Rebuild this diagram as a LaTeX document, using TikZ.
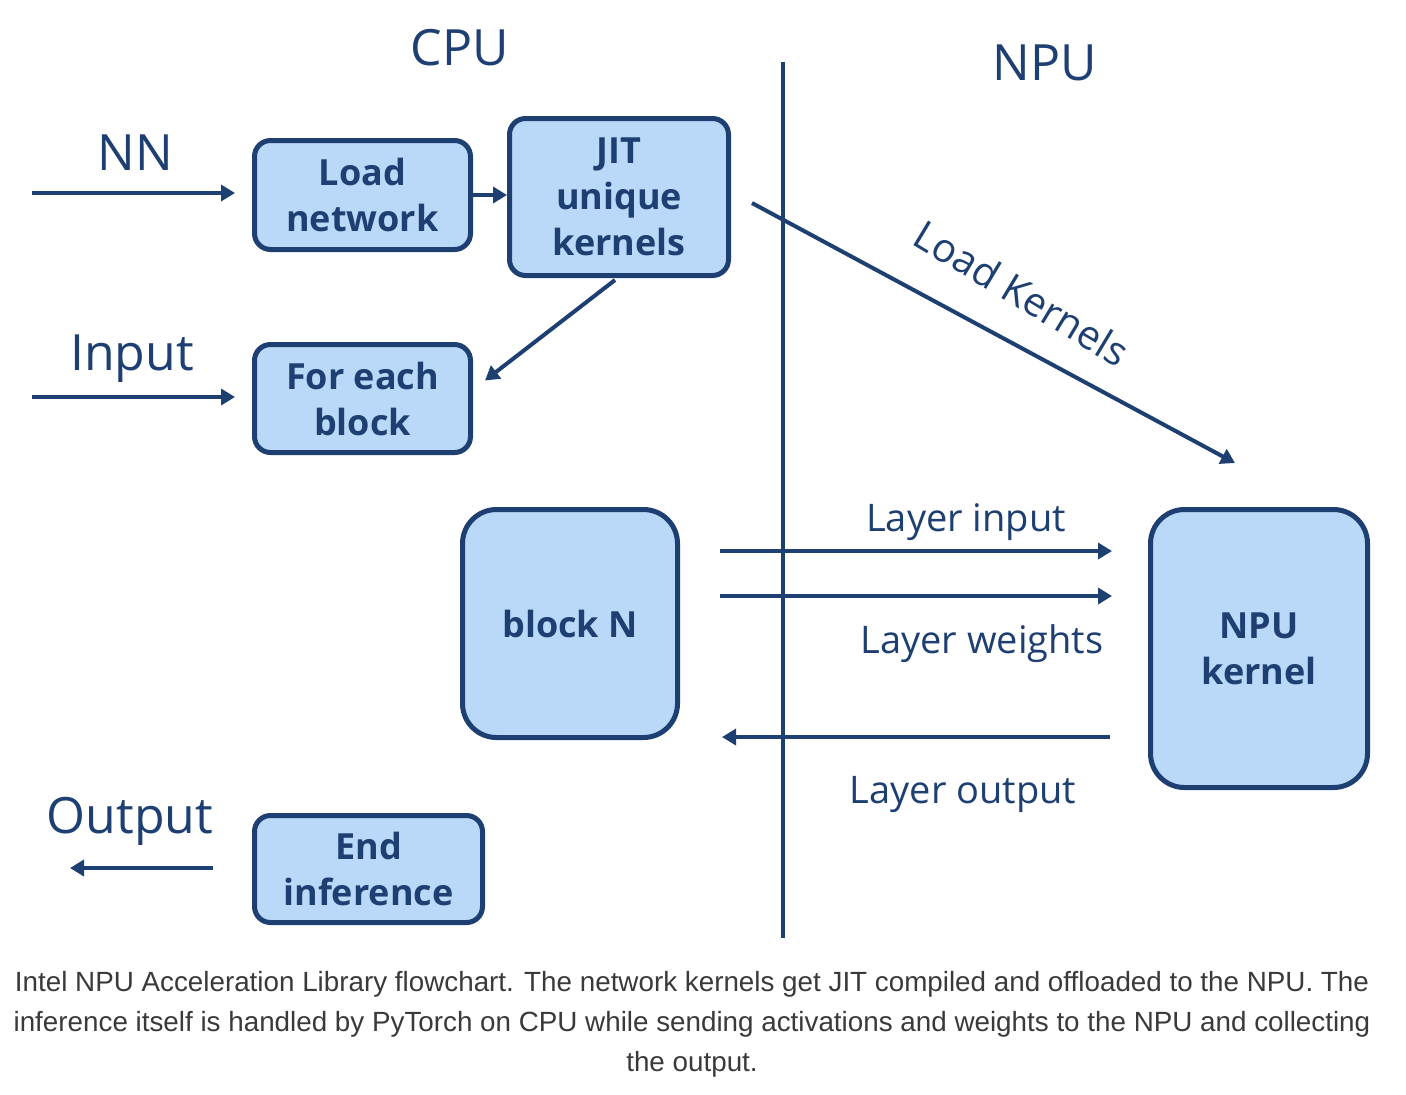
\documentclass[tikz,border=0pt]{standalone}
\usepackage{fontspec}
\setmainfont{Open Sans}
\newfontfamily\capfont{Liberation Sans}
\usetikzlibrary{arrows.meta,calc}
\definecolor{navy}{HTML}{1D3F72}
\definecolor{boxfill}{HTML}{BAD8F7}
\definecolor{capgray}{HTML}{3A3A3A}
\begin{document}
\begin{tikzpicture}[x=0.5pt,y=-0.5pt,
 box/.style={draw=navy, fill=boxfill, line width=2.5pt, rounded corners=8pt, align=center,
   font=\fontsize{18}{23}\selectfont\bfseries, text=navy, inner sep=0pt},
 bigbox/.style={box, rounded corners=17pt},
 arr/.style={draw=navy, line width=2pt, -{Triangle[length=7pt,width=8pt]}},
 biglbl/.style={text=navy, font=\fontsize{25}{30}\selectfont, inner sep=0pt, anchor=base},
 lbl/.style={text=navy, font=\fontsize{19}{23}\selectfont, inner sep=0pt, anchor=base},
]
\useasboundingbox[fill=white] (0,0) rectangle (1406,1094);

% divider
\coordinate (divtop) at (783,62);
\coordinate (divbot) at (783,938);
\draw[navy, line width=2pt] (divtop) -- (divbot);

% headings
\node[biglbl] (cpu) at (460,65) {CPU};
\node[biglbl] (npu) at (1045,80) {NPU};
\node[biglbl] (nn) at (135,170) {NN};
\node[biglbl] (input) at (132,370) {Input};
\node[biglbl] (output) at (130,833) {Output};

% boxes
\node[box, minimum width=108pt, minimum height=54.5pt] (load) at (362.5,195) {Load\\network};
\node[box, minimum width=109.5pt, minimum height=78.5pt] (jit) at (619,197) {JIT\\unique\\kernels};
\node[box, minimum width=108pt, minimum height=54pt] (foreach) at (362.5,398.5) {For each\\block};
\node[bigbox, minimum width=107.5pt, minimum height=114pt] (blockN) at (570,623.5) {block N};
\node[bigbox, minimum width=108.5pt, minimum height=139pt] (npuk) at (1259,648.5) {NPU\\kernel};
\node[box, minimum width=114pt, minimum height=53.5pt] (endinf) at (368.5,869) {End\\inference};

% input arrows
\coordinate (nnstart) at (32,193);
\coordinate (instart) at (32,397);
\coordinate (outend) at (70,868);
\draw[arr, shorten >=8.5pt] (nnstart) -- (nnstart -| load.west);
\draw[arr, shorten >=8.5pt] (instart) -- (instart -| foreach.west);
\draw[arr, shorten <=19.5pt] (endinf.west |- outend) -- (outend);

% CPU flow
\draw[arr] (load.east) -- (load.east -| jit.west);
\coordinate (jitfoot) at ($(jit.south)+(-4,2)$);
\draw[arr] (jitfoot) -- ($(foreach.east)+(12,-18)$);

% load kernels
\draw[arr] ($(jit.east)+(21,6)$) -- ($(npuk.north)+(-24,-44)$);
\node[text=navy, font=\fontsize{20}{24}\selectfont, rotate=-31] (lk) at (1022,293) {Load Kernels};

% layer traffic
\draw[arr, shorten <=20pt, shorten >=18pt] ($(blockN.east)+(0,-72.5)$) -- ($(npuk.west)+(0,-97.5)$);
\draw[arr, shorten <=20pt, shorten >=18pt] ($(blockN.east)+(0,-27.5)$) -- ($(npuk.west)+(0,-52.5)$);
\draw[arr, shorten <=19pt, shorten >=21pt] ($(npuk.west)+(0,88.5)$) -- ($(blockN.east)+(0,113.5)$);
\node[lbl] (li) at (966,531) {Layer input};
\node[lbl] (lw) at (982,653) {Layer weights};
\node[lbl] (lo) at (963,803) {Layer output};

% caption
\node[text=capgray, font=\capfont\fontsize{13.9}{20}\selectfont, align=center, inner sep=0pt] (cap) at (692,1024)
 {Intel NPU Acceleration Library flowchart. The network kernels get JIT compiled and offloaded to the NPU. The\\
  inference itself is handled by PyTorch on CPU while sending activations and weights to the NPU and collecting\\
  the output.};
\end{tikzpicture}
\end{document}
